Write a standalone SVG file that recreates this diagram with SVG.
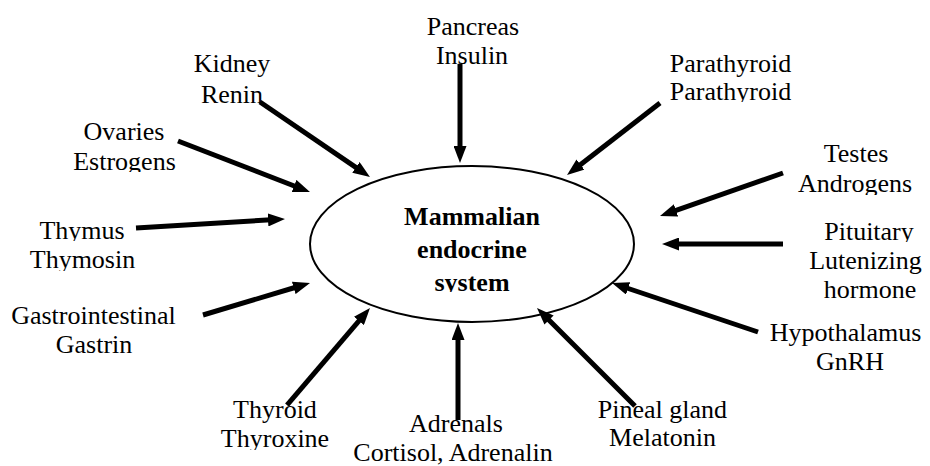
<svg xmlns="http://www.w3.org/2000/svg" width="930" height="466" viewBox="0 0 930 466">
<style>
text{font-size:26px;fill:#000;text-anchor:middle}
.b{font-weight:bold}
.c line{stroke:#000;stroke-width:5;marker-end:url(#ah)}
</style>
<defs>
<marker id="ah" markerUnits="userSpaceOnUse" markerWidth="17" markerHeight="13" refX="3" refY="6.5" orient="auto">
<path d="M0,0 L17,6.5 L0,13 z" fill="#000"/>
</marker>
<clipPath id="cEst"><rect x="0" y="0" width="300" height="172"/></clipPath>
<clipPath id="cThy1"><rect x="0" y="0" width="300" height="241"/></clipPath>
<clipPath id="cThy2"><rect x="0" y="0" width="300" height="271"/></clipPath>
<clipPath id="cThx"><rect x="0" y="0" width="400" height="450"/></clipPath>
<clipPath id="cPar"><rect x="600" y="0" width="300" height="102"/></clipPath>
<clipPath id="cAnd"><rect x="700" y="0" width="230" height="195"/></clipPath>
<clipPath id="cSys"><rect x="300" y="0" width="340" height="292"/></clipPath>
<clipPath id="cPit"><rect x="700" y="0" width="230" height="242"/></clipPath>
</defs>
<g font-family="Liberation Serif">
<g id="center">
<ellipse cx="472" cy="244" rx="162" ry="78" fill="none" stroke="#000" stroke-width="2"/>
<text class="b" x="472" y="225">Mammalian</text>
<text class="b" x="472" y="258">endocrine</text>
<text class="b" x="472" y="291" clip-path="url(#cSys)">system</text>
</g>
<g id="pancreas"><text x="473" y="35">Pancreas</text><text x="472" y="64">Insulin</text></g>
<g id="kidney"><text x="232" y="72">Kidney</text><text x="232" y="103">Renin</text></g>
<g id="ovaries"><text x="124" y="140">Ovaries</text><text x="124.5" y="170" clip-path="url(#cEst)">Estrogens</text></g>
<g id="thymus"><text x="82" y="239" clip-path="url(#cThy1)">Thymus</text><text x="82.5" y="268" clip-path="url(#cThy2)">Thymosin</text></g>
<g id="gastro"><text x="93.5" y="324">Gastrointestinal</text><text x="94" y="353">Gastrin</text></g>
<g id="thyroid"><text x="275" y="418">Thyroid</text><text x="275" y="447" clip-path="url(#cThx)">Thyroxine</text></g>
<g id="adrenals"><text x="456" y="432">Adrenals</text><text x="453" y="461">Cortisol, Adrenalin</text></g>
<g id="pineal"><text x="662.5" y="418">Pineal gland</text><text x="662.5" y="446">Melatonin</text></g>
<g id="hypothalamus"><text x="845.5" y="341">Hypothalamus</text><text x="850" y="370">GnRH</text></g>
<g id="pituitary"><text x="869" y="240" clip-path="url(#cPit)">Pituitary</text><text x="865.5" y="269">Lutenizing</text><text x="870" y="298">hormone</text></g>
<g id="testes"><text x="856" y="162">Testes</text><text x="855" y="192" clip-path="url(#cAnd)">Androgens</text></g>
<g id="parathyroid"><text x="730.5" y="72">Parathyroid</text><text x="730.5" y="100" clip-path="url(#cPar)">Parathyroid</text></g>
</g>
<g id="connectors" class="c">
<line x1="460" y1="64" x2="460" y2="149"/>
<line x1="260" y1="102" x2="358.4" y2="169.1"/>
<line x1="178" y1="141" x2="296.9" y2="187"/>
<line x1="136" y1="228" x2="271" y2="219.8"/>
<line x1="203" y1="315" x2="296.6" y2="287"/>
<line x1="287" y1="405" x2="360.9" y2="318.6"/>
<line x1="458" y1="420" x2="458" y2="337"/>
<line x1="635" y1="406" x2="546.9" y2="317.9"/>
<line x1="758" y1="332" x2="625.3" y2="287.5"/>
<line x1="783" y1="244" x2="676" y2="244"/>
<line x1="783" y1="173" x2="673.2" y2="211.4"/>
<line x1="660" y1="103" x2="578.1" y2="166.4"/>
</g>
</svg>
